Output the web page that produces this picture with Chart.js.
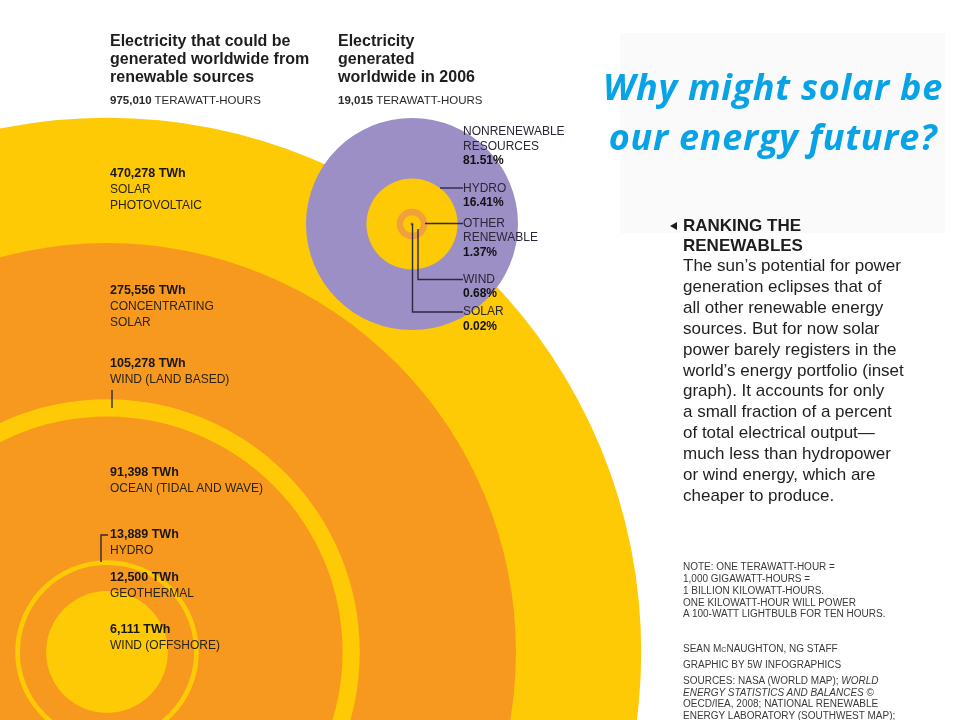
<!DOCTYPE html>
<html><head><meta charset="utf-8">
<script src="https://cdn.jsdelivr.net/npm/chart.js@4.4.1/dist/chart.umd.min.js"></script>
<style>
html,body{margin:0;padding:0;background:#fff;}
#wrap{position:relative;width:960px;height:720px;overflow:hidden;font-family:"Liberation Sans",Arial,Helvetica,sans-serif;color:#231f20;}
#c{position:absolute;left:0;top:0;}
#bgrect{position:absolute;left:620px;top:33px;width:325px;height:200px;background:#fafafa;}
.t{position:absolute;white-space:nowrap;z-index:2;}
.head{font-weight:bold;font-size:16px;line-height:18px;color:#1d1d1d;}
.tot{font-size:11.5px;line-height:14px;color:#2a2a2a;}
.lab{font-size:12px;line-height:16px;color:#2b2416;}
.lab b{font-size:12.5px;color:#1a1612;}
.ins{font-size:12px;line-height:14.5px;color:#2a2638;}
.ins b{color:#111;}
#title{left:560px;width:426px;text-align:center;top:62px;font-family:"Open Sans",Lato,sans-serif;font-style:italic;font-weight:bold;font-size:36px;line-height:50px;color:#08a2e6;}
#title span{display:inline-block;}
#rank{left:683px;top:216px;font-weight:bold;font-size:17px;line-height:20px;color:#1d1d1d;}
#tri{position:absolute;left:670px;top:221.5px;width:0;height:0;border-top:4.5px solid transparent;border-bottom:4.5px solid transparent;border-right:7px solid #1d1d1d;z-index:2;}
#body{left:683px;top:256px;font-size:17px;line-height:20.9px;color:#1f1f1f;}
.note{font-size:10px;line-height:11.75px;color:#3a3a3a;left:683px;}
</style></head><body>
<div id="wrap">
<div id="bgrect"></div>
<canvas id="c" width="960" height="720"></canvas>
<div id="labels"></div>
</div>
<script>
// ---- Data ----
const sourceLabels = ['SOLAR|PHOTOVOLTAIC', 'CONCENTRATING|SOLAR', 'WIND (LAND BASED)', 'OCEAN (TIDAL AND WAVE)', 'HYDRO', 'GEOTHERMAL', 'WIND (OFFSHORE)'];
const potentialTWh = [470278, 275556, 105278, 91398, 13889, 12500, 6111];
const potentialTotalTWh = 975010;
const generatedTotalTWh = 19015;
const generationLabels = ['NONRENEWABLE|RESOURCES', 'HYDRO', 'OTHER|RENEWABLE', 'WIND', 'SOLAR'];
const generationShare = [81.51, 16.41, 1.37, 0.68, 0.02];

// ---- Layout ----
const CX = 107, CY = 652;          // centre of renewable-potential circles
const ICX = 412, ICY = 224;        // centre of 2006 generation inset
const K_BIG = 0.779;               // axis units per sqrt(TWh)
const K_INSET = 10.6;              // axis units per sqrt(%)
const YELLOW = '#fec905', ORANGE = '#f6991e', PURPLE = '#9b8fc6';
const insetColors = [PURPLE, YELLOW, '#f2a03c', YELLOW, '#e5391e'];
const sourceLabelTop = [165.3, 282, 355.3, 464.3, 526.3, 569.3, 621];
const insetLabelTop = [124.4, 180.7, 215.7, 271.7, 304.4];
const leaderPaths = [
  [[112,390],[112,408]],
  [[108,535],[101,535],[101,562]],
  [[440,188],[463,188]],
  [[425,223.5],[463,223.5]],
  [[418,229],[418,279.5],[463,279.5]],
  [[412.5,224],[412.5,312],[463,312]]
];

const fmt = n => String(n).replace(/\B(?=(\d{3})+(?!\d))/g, ',');
// each inset circle covers its own share plus all inner categories
const cumShare = generationShare.map((_, i) => generationShare.slice(i).reduce((a, b) => a + b, 0));

const leaderPlugin = {
  id: 'leaders',
  afterDatasetsDraw(chart) {
    const {ctx, scales: {x, y}} = chart;
    ctx.save();
    ctx.strokeStyle = '#2d2940';
    ctx.lineWidth = 1.4;
    for (const p of leaderPaths) {
      ctx.beginPath();
      p.forEach(([a, b], i) => {
        const px = x.getPixelForValue(a), py = y.getPixelForValue(b);
        i ? ctx.lineTo(px, py) : ctx.moveTo(px, py);
      });
      ctx.stroke();
    }
    ctx.restore();
  }
};

const scaleK = [K_INSET, K_BIG];
const chart = new Chart(document.getElementById('c'), {
  type: 'bubble',
  data: {
    datasets: [
      {
        label: 'Electricity generated worldwide in 2006 (%)',
        order: 0,
        data: cumShare.map(v => ({x: ICX, y: ICY, v, r: 0})),
        backgroundColor: insetColors,
        borderWidth: 0,
        hoverRadius: 0
      },
      {
        label: 'Renewable potential (TWh)',
        order: 1,
        data: potentialTWh.map(v => ({x: CX, y: CY, v, r: 0})),
        backgroundColor: potentialTWh.map((_, i) => i % 2 ? ORANGE : YELLOW),
        borderWidth: 0,
        hoverRadius: 0
      }
    ]
  },
  options: {
    responsive: false,
    animation: false,
    events: [],
    devicePixelRatio: 1,
    layout: {padding: 0, autoPadding: false},
    clip: false,
    scales: {
      x: {type: 'linear', min: 0, max: 960, display: false},
      y: {type: 'linear', min: 0, max: 720, reverse: true, display: false}
    },
    plugins: {legend: {display: false}, tooltip: {enabled: false}}
  },
  plugins: [leaderPlugin]
});
// circle area proportional to value: radius (in x-axis units) = k * sqrt(value), converted to pixels by the x scale
(function applyRadii() {
  const xs = chart.scales.x;
  chart.data.datasets.forEach((ds, di) => {
    ds.data = ds.data.map(p => ({
      x: p.x, y: p.y, v: p.v,
      r: Math.abs(xs.getPixelForValue(scaleK[di] * Math.sqrt(p.v)) - xs.getPixelForValue(0))
    }));
  });
  chart.update('none');
})();

// ---- Text ----
const L = document.getElementById('labels');
let html = '';
html += `<div class="t head" style="left:110px;top:32px">Electricity that could be<br>generated worldwide from<br>renewable sources</div>`;
html += `<div class="t tot" style="left:110px;top:93.3px"><b>${fmt(potentialTotalTWh)}</b> TERAWATT-HOURS</div>`;
html += `<div class="t head" style="left:338px;top:32px">Electricity<br>generated<br>worldwide in 2006</div>`;
html += `<div class="t tot" style="left:338px;top:93.3px"><b>${fmt(generatedTotalTWh)}</b> TERAWATT-HOURS</div>`;
sourceLabels.forEach((s, i) => {
  html += `<div class="t lab" style="left:110px;top:${sourceLabelTop[i]}px"><b>${fmt(potentialTWh[i])} TWh</b><br>${s.split('|').join('<br>')}</div>`;
});
generationLabels.forEach((s, i) => {
  html += `<div class="t ins" style="left:463px;top:${insetLabelTop[i]}px">${s.split('|').join('<br>')}<br><b>${generationShare[i].toFixed(2)}%</b></div>`;
});
html += `<div class="t" id="title"><span>Why might solar be</span><br><span>our energy future?</span></div>`;
html += `<div id="tri"></div><div class="t" id="rank">RANKING THE<br>RENEWABLES</div>`;
html += `<div class="t" id="body">The sun’s potential for power<br>generation eclipses that of<br>all other renewable energy<br>sources. But for now solar<br>power barely registers in the<br>world’s energy portfolio (inset<br>graph). It accounts for only<br>a small fraction of a percent<br>of total electrical output—<br>much less than hydropower<br>or wind energy, which are<br>cheaper to produce.</div>`;
html += `<div class="t note" style="top:561.4px">NOTE: ONE TERAWATT-HOUR =<br>1,000 GIGAWATT-HOURS =<br>1 BILLION KILOWATT-HOURS.<br>ONE KILOWATT-HOUR WILL POWER<br>A 100-WATT LIGHTBULB FOR TEN HOURS.</div>`;
html += `<div class="t note" style="top:643px;line-height:12px">SEAN M<span style="font-variant:small-caps">c</span>NAUGHTON, NG STAFF</div>`;
html += `<div class="t note" style="top:659px;line-height:12px">GRAPHIC BY 5W INFOGRAPHICS</div>`;
html += `<div class="t note" style="top:675.2px;line-height:11.6px">SOURCES: NASA (WORLD MAP); <i>WORLD<br>ENERGY STATISTICS AND BALANCES</i> ©<br>OECD/IEA, 2008; NATIONAL RENEWABLE<br>ENERGY LABORATORY (SOUTHWEST MAP);</div>`;
L.innerHTML = html;

// fit the title line widths to the reference (first line ~340px wide)
const spans = document.querySelectorAll('#title span');
const w0 = spans[0].getBoundingClientRect().width;
const ls = Math.max(-1, Math.min(2, (340 - w0) / spans[0].textContent.length));
spans.forEach(s => s.style.letterSpacing = ls.toFixed(2) + 'px');
</script>
</body></html>
